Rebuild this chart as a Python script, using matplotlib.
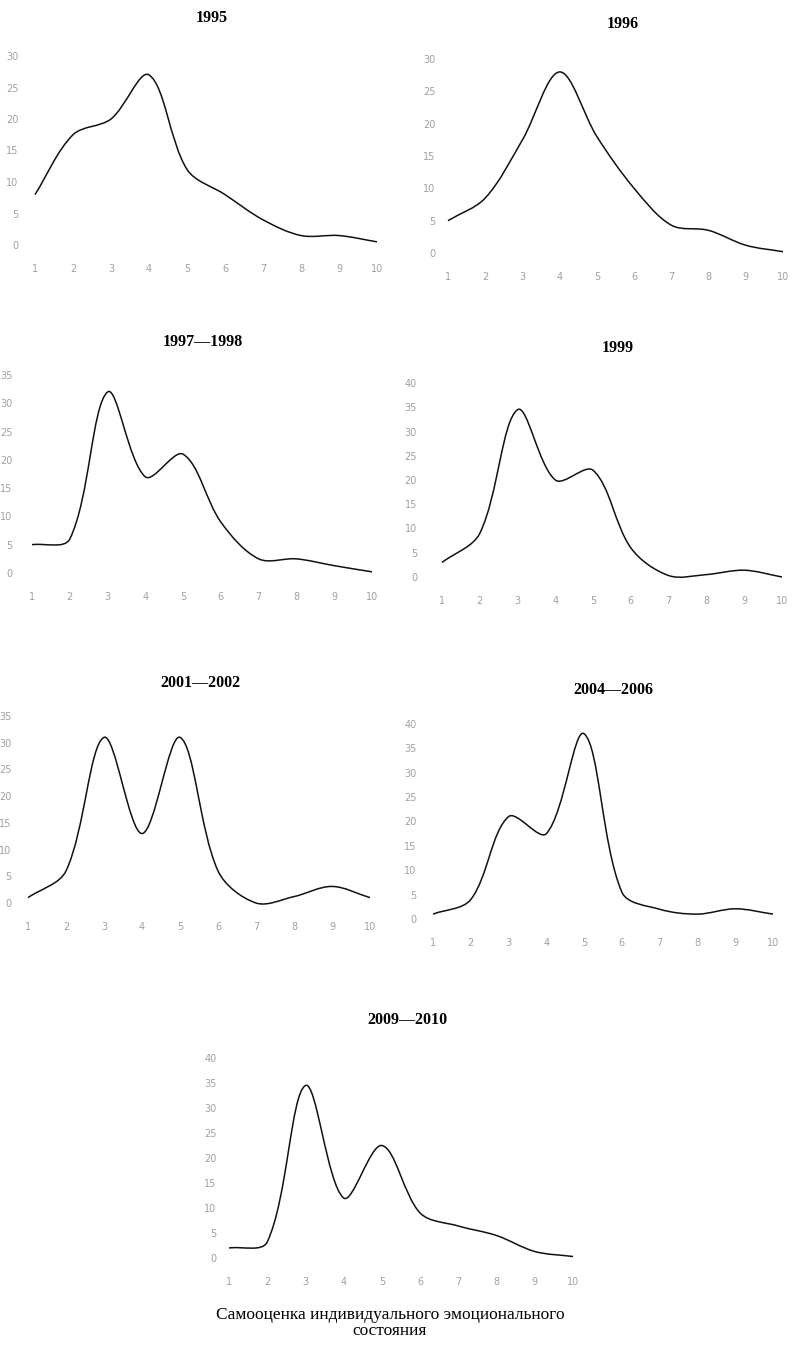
import numpy as np
import matplotlib
matplotlib.use("Agg")
import matplotlib.pyplot as plt
from matplotlib.path import Path
from matplotlib.patches import PathPatch

# Оценка эмоционального состояния (1..10), доля ответов, %
x_vals = list(range(1, 11))

titles = ["1995", "1996", "1997—1998", "1999", "2001—2002", "2004—2006", "2009—2010"]

v_1995 = [8, 17.5, 20, 27, 12, 8, 4, 1.5, 1.5, 0.5]
v_1996 = [5, 8.5, 17.5, 28, 18, 10, 4.3, 3.5, 1.2, 0.2]
v_1997 = [5, 6, 32, 17, 21, 9, 2.5, 2.5, 1.3, 0.2]
v_1999 = [3, 9, 34.5, 20, 22, 6, 0.3, 0.5, 1.4, 0]
v_2001 = [1, 6, 31, 13, 31, 6, 0, 1.2, 3.1, 1]
v_2004 = [1, 4, 21, 17.5, 38, 5.5, 2, 1, 2.1, 1]
v_2009 = [2, 3.2, 34.5, 12, 22.5, 9, 6.4, 4.5, 1.3, 0.3]

y_max = [30, 30, 35, 40, 35, 40, 40]
series = [v_1995, v_1996, v_1997, v_1999, v_2001, v_2004, v_2009]

# Размещение панелей в пикселях исходной картинки:
# (x для 1, x для 10, y для 0, y для верха шкалы, центр заголовка x, y, отступ подписей y)
layout = [
    (35, 377, 245, 56, 212, 18, 12),
    (448, 783, 253, 59, 623, 24, 9),
    (32, 372, 573, 375, 203, 342, 14),
    (442, 782, 577, 383, 618, 348, 18),
    (28, 370, 903, 716, 200, 683, 12),
    (433, 773, 919, 724, 613, 690, 12),
    (229, 573, 1258, 1058, 407, 1020, 9),
]

W, H = 792, 1345


def smooth_path(xs, ys, sx, sy, k=1 / 3):
    # сглаживание как в Excel: Безье, плечи пропорциональны длинам отрезков (в пикселях)
    pts = np.column_stack([xs, ys]).astype(float)
    scale = np.array([sx, sy])
    q = pts * scale
    n = len(q)
    c_out = np.zeros_like(q)
    c_in = np.zeros_like(q)
    for i in range(n):
        prev = q[i - 1] if i > 0 else q[i]
        nxt = q[i + 1] if i < n - 1 else q[i]
        t = nxt - prev
        d_in = np.hypot(*(q[i] - prev))
        d_out = np.hypot(*(nxt - q[i]))
        tot = d_in + d_out
        c_out[i] = q[i] + t * k * (d_out / tot)
        c_in[i] = q[i] - t * k * (d_in / tot)
    verts = [pts[0]]
    codes = [Path.MOVETO]
    for i in range(n - 1):
        verts += [c_out[i] / scale, c_in[i + 1] / scale, pts[i + 1]]
        codes += [Path.CURVE4] * 3
    return Path(verts, codes)


fig = plt.figure(figsize=(W / 100, H / 100), dpi=100)

for vals, title, ym, lay in zip(series, titles, y_max, layout):
    x1, x10, y0, ytop, tx, ty, ypad = lay
    ax = fig.add_axes([x1 / W, 1 - y0 / H, (x10 - x1) / W, (y0 - ytop) / H])
    ax.set_xlim(1, 10)
    ax.set_ylim(0, ym)
    sx = (x10 - x1) / 9
    sy = (y0 - ytop) / ym
    patch = PathPatch(smooth_path(x_vals, vals, sx, sy), facecolor="none",
                      edgecolor="#111111", linewidth=1.1, clip_on=False)
    ax.add_patch(patch)
    for s in ax.spines.values():
        s.set_visible(False)
    ax.set_xticks(x_vals)
    ax.set_yticks(np.arange(0, ym + 1, 5))
    ax.tick_params(axis="x", length=0, pad=14, labelsize=7, labelcolor="#a0a0a0")
    ax.tick_params(axis="y", length=0, pad=ypad, labelsize=7, labelcolor="#a0a0a0")
    for lbl in ax.get_xticklabels() + ax.get_yticklabels():
        lbl.set_fontfamily("DejaVu Sans")
    ax.patch.set_visible(False)
    fig.text(tx / W, 1 - ty / H, title, ha="center", va="center",
             fontsize=11.5, fontweight="bold", family="Liberation Serif")

fig.text(390 / W, 1 - 1315 / H, "Самооценка индивидуального эмоционального",
         ha="center", va="center", fontsize=12.5, family="Liberation Serif")
fig.text(390 / W, 1 - 1331 / H, "состояния",
         ha="center", va="center", fontsize=12.5, family="Liberation Serif")

fig.savefig("out.png", dpi=100)
